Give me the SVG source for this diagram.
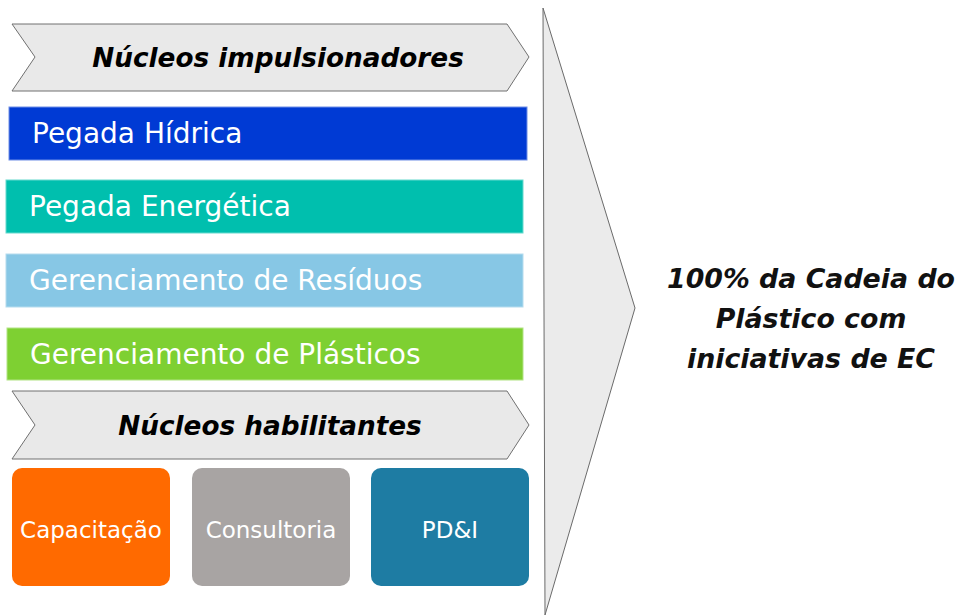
<svg xmlns="http://www.w3.org/2000/svg" width="959" height="615" viewBox="0 0 959 615">
<style>
.chev{fill:#e9e9e9;stroke:#707070;stroke-width:1}
.head{font-family:"DejaVu Sans",sans-serif;font-weight:bold;font-style:italic;font-size:26.3px;fill:#000;text-anchor:middle}
.bar text{font-family:"DejaVu Sans",sans-serif;font-size:28px;fill:#fff}
.box text{font-family:"DejaVu Sans",sans-serif;font-size:23px;fill:#fff;text-anchor:middle}
.goal{font-family:"DejaVu Sans",sans-serif;font-weight:bold;font-style:italic;font-size:26.8px;fill:#111;text-anchor:middle}
</style>
<rect width="959" height="615" fill="#fff"/>
<g id="big-arrow">
<polygon points="543,8 635,308 545,615" fill="#ebebeb" stroke="#6a6a6a" stroke-width="1"/>
</g>
<g id="nucleos-impulsionadores">
<polygon class="chev" points="12,24 507,24 529,57 507,91 12,91 35,57"/>
<text class="head" x="278" y="67">Núcleos impulsionadores</text>
</g>
<g id="pegada-hidrica" class="bar">
<rect x="9" y="107" width="518" height="53" fill="#003ad4" stroke="#6e8ee6" stroke-width="1"/>
<text x="32" y="143">Pegada Hídrica</text>
</g>
<g id="pegada-energetica" class="bar">
<rect x="6" y="180" width="517" height="53" fill="#00bfae" stroke="#66d9ce" stroke-width="1"/>
<text x="29" y="216">Pegada Energética</text>
</g>
<g id="gerenciamento-residuos" class="bar">
<rect x="6" y="254" width="517" height="53" fill="#87c7e5" stroke="#b5dcee" stroke-width="1"/>
<text x="29" y="290">Gerenciamento de Resíduos</text>
</g>
<g id="gerenciamento-plasticos" class="bar">
<rect x="7" y="328" width="516" height="52" fill="#7ed032" stroke="#b2e384" stroke-width="1"/>
<text x="30" y="364">Gerenciamento de Plásticos</text>
</g>
<g id="nucleos-habilitantes">
<polygon class="chev" points="12,391 507,391 529,425 507,459 12,459 35,425"/>
<text class="head" x="270" y="435">Núcleos habilitantes</text>
</g>
<g id="capacitacao" class="box">
<rect x="12" y="468" width="158" height="118" rx="10" fill="#ff6a00"/>
<text x="91" y="538">Capacitação</text>
</g>
<g id="consultoria" class="box">
<rect x="192" y="468" width="158" height="118" rx="10" fill="#a8a4a3"/>
<text x="271" y="538">Consultoria</text>
</g>
<g id="pdi" class="box">
<rect x="371" y="468" width="158" height="118" rx="10" fill="#1e7ca3"/>
<text x="450" y="538">PD&amp;I</text>
</g>
<g id="goal">
<text class="goal" x="811" y="288">100% da Cadeia do</text>
<text class="goal" x="811" y="328">Plástico com</text>
<text class="goal" x="811" y="368">iniciativas de EC</text>
</g>
<g id="connectors"/>
</svg>
